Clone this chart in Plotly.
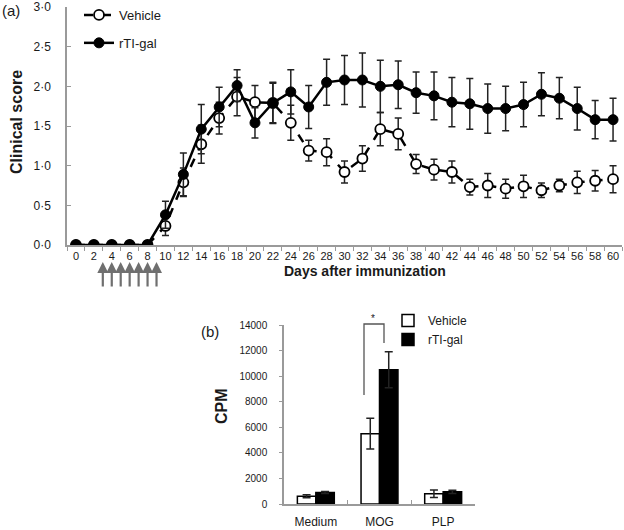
import plotly.graph_objects as go

# ---------------- Data ----------------
days = list(range(0, 61, 2))
day_labels = ["0", "2", "4", "6", "8", "10", "12", "14", "16", "18", "20", "22", "24", "26", "28",
              "30", "32", "34", "36", "38", "40", "42", "44", "46", "48", "50", "52", "54", "56", "58", "60"]

vehicle = [0, 0, 0, 0, 0, 0.24, 0.79, 1.27, 1.60, 1.87, 1.80, 1.79, 1.54, 1.19, 1.17,
           0.92, 1.09, 1.46, 1.40, 1.02, 0.95, 0.92, 0.73, 0.75, 0.71, 0.74, 0.69, 0.75, 0.79, 0.81, 0.83]
vehicle_err = [0, 0, 0, 0, 0, 0.12, 0.18, 0.24, 0.20, 0.24, 0.21, 0.25, 0.22, 0.13, 0.17,
               0.14, 0.16, 0.21, 0.20, 0.12, 0.13, 0.14, 0.10, 0.15, 0.12, 0.14, 0.09, 0.08, 0.14, 0.13, 0.17]

rtigal = [0, 0, 0, 0, 0, 0.38, 0.89, 1.46, 1.74, 2.01, 1.54, 1.79, 1.93, 1.74, 2.05,
          2.08, 2.08, 2.00, 2.02, 1.92, 1.88, 1.80, 1.78, 1.72, 1.72, 1.77, 1.90, 1.85, 1.72, 1.58, 1.58]
rtigal_err = [0, 0, 0, 0, 0, 0.17, 0.27, 0.31, 0.25, 0.20, 0.19, 0.26, 0.28, 0.27, 0.29,
              0.31, 0.34, 0.33, 0.30, 0.26, 0.30, 0.31, 0.32, 0.31, 0.28, 0.28, 0.27, 0.26, 0.27, 0.24, 0.27]

y_ticks = [0, 0.5, 1.0, 1.5, 2.0, 2.5, 3.0]
y_tick_labels = ["0·0", "0·5", "1·0", "1·5", "2·0", "2·5", "3·0"]

injection_days = [3, 4, 5, 6, 7, 8, 9]

categories = ["Medium", "MOG", "PLP"]
cpm_vehicle = [600, 5500, 800]
cpm_vehicle_err = [120, 1200, 300]
cpm_rtigal = [900, 10500, 950]
cpm_rtigal_err = [80, 1400, 130]
cpm_ticks = [0, 2000, 4000, 6000, 8000, 10000, 12000, 14000]
cpm_tick_labels = ["0", "2000", "4000", "6000", "8000", "10000", "12000", "14000"]

# ---------------- Helpers (pixel -> paper) ----------------
W, H = 624, 530
def px(x):
    return x / W
def py(y):
    return 1 - y / H

FONT = "Liberation Sans, Arial, sans-serif"
TXT = "#1a1a1a"
AX = "#9a9a9a"

fig = go.Figure()

# ---------------- Panel (a) ----------------
fig.add_trace(go.Scatter(
    x=days, y=vehicle, name="Vehicle", mode="lines+markers", legendgroup="veh",
    line=dict(color="black", width=2.5, dash="dash"),
    marker=dict(symbol="circle", size=10, color="white", line=dict(color="black", width=1.8)),
    error_y=dict(type="data", array=vehicle_err, color="#222", thickness=1.5, width=3.5),
    xaxis="x", yaxis="y", legend="legend",
))
fig.add_trace(go.Scatter(
    x=days, y=rtigal, name="rTI-gal", mode="lines+markers", legendgroup="rti",
    line=dict(color="black", width=2.5),
    marker=dict(symbol="circle", size=10, color="black", line=dict(color="black", width=1)),
    error_y=dict(type="data", array=rtigal_err, color="#222", thickness=1.5, width=3.5),
    xaxis="x", yaxis="y", legend="legend",
))

# ---------------- Panel (b) ----------------
fig.add_trace(go.Bar(
    x=categories, y=cpm_vehicle, name="Vehicle",
    marker=dict(color="white", line=dict(color="black", width=1.5)),
    error_y=dict(type="data", array=cpm_vehicle_err, color="#222", thickness=1.5, width=4),
    xaxis="x2", yaxis="y2", legend="legend2",
))
fig.add_trace(go.Bar(
    x=categories, y=cpm_rtigal, name="rTI-gal",
    marker=dict(color="black", line=dict(color="black", width=1.5)),
    error_y=dict(type="data", array=cpm_rtigal_err, color="#222", thickness=1.5, width=4),
    xaxis="x2", yaxis="y2", legend="legend2",
))

# ---------------- Annotations ----------------
ann = []
ann.append(dict(text="(a)", x=px(0), y=py(11), xref="paper", yref="paper", xanchor="left", yanchor="middle",
                showarrow=False, font=dict(size=15, color=TXT, family=FONT)))
ann.append(dict(text="(b)", x=px(210), y=py(331), xref="paper", yref="paper", xanchor="center", yanchor="middle",
                showarrow=False, font=dict(size=15, color=TXT, family=FONT)))
ann.append(dict(text="<b>Clinical score</b>", x=px(17), y=py(122), xref="paper", yref="paper",
                xanchor="center", yanchor="middle", textangle=-90, showarrow=False,
                font=dict(size=16, color=TXT, family=FONT)))
ann.append(dict(text="<b>Days after immunization</b>", x=px(365), y=py(271), xref="paper", yref="paper",
                xanchor="center", yanchor="middle", showarrow=False,
                font=dict(size=14, color=TXT, family=FONT)))
ann.append(dict(text="<b>CPM</b>", x=px(221), y=py(406), xref="paper", yref="paper",
                xanchor="center", yanchor="middle", textangle=-90, showarrow=False,
                font=dict(size=16, color=TXT, family=FONT)))
ann.append(dict(text="*", x=px(373), y=py(318), xref="paper", yref="paper",
                xanchor="center", yanchor="middle", showarrow=False,
                font=dict(size=10, color=TXT, family=FONT)))
for d in injection_days:
    ann.append(dict(text="", x=d, xref="x", y=py(262), yref="paper",
                    showarrow=True, ax=0, ay=26, arrowhead=2, arrowsize=1.0, arrowwidth=2.2,
                    arrowcolor="#6f6f6f"))

# significance bracket
shapes = [dict(type="path", xref="paper", yref="paper",
               path=f"M {px(364)} {py(395)} L {px(364)} {py(324)} L {px(384)} {py(324)} L {px(384)} {py(343)}",
               line=dict(color="#555", width=1.3))]

fig.update_layout(
    width=W, height=H,
    margin=dict(l=0, r=0, t=0, b=0, autoexpand=False),
    paper_bgcolor="white", plot_bgcolor="white",
    font=dict(family=FONT, color=TXT),
    barmode="group", bargap=0.42, bargroupgap=0,
    annotations=ann, shapes=shapes,
    xaxis=dict(domain=[px(67), px(622)], range=[-1, 61], anchor="y", automargin=False,
               tickmode="array", tickvals=days, ticktext=day_labels,
               ticks="", showline=True, linecolor=AX, linewidth=1.5,
               showgrid=False, zeroline=False,
               tickfont=dict(size=11, color=TXT, family=FONT),
               minor=dict(tickmode="linear", tick0=-1, dtick=2, ticks="outside", ticklen=4,
                          tickcolor=AX, tickwidth=1, showgrid=False)),
    yaxis=dict(domain=[py(245), py(7)], range=[0, 3], anchor="x", automargin=False,
               tickmode="array", tickvals=y_ticks, ticktext=y_tick_labels,
               ticks="inside", ticklen=4, tickcolor=AX, ticklabelstandoff=12,
               showline=True, linecolor=AX, linewidth=1.5,
               showgrid=False, zeroline=False,
               tickfont=dict(size=12, color=TXT, family=FONT)),
    xaxis2=dict(domain=[px(284), px(475)], anchor="y2", automargin=False,
                ticks="", showline=True, linecolor=AX, linewidth=1.5,
                showgrid=False, zeroline=False, ticklabelstandoff=6,
                tickfont=dict(size=12, color=TXT, family=FONT),
                minor=dict(tickmode="array", tickvals=[0.5, 1.5], ticks="inside", ticklen=4,
                           tickcolor=AX, showgrid=False)),
    yaxis2=dict(domain=[py(504), py(325)], range=[0, 14000], anchor="x2", automargin=False,
                tickmode="array", tickvals=cpm_ticks, ticktext=cpm_tick_labels,
                ticks="outside", ticklen=3, tickcolor=AX, ticklabelstandoff=10,
                showline=True, linecolor=AX, linewidth=1.5,
                showgrid=False, zeroline=False,
                tickfont=dict(size=10, color=TXT, family=FONT)),
    legend=dict(x=px(79), y=py(0), xanchor="left", yanchor="top", bgcolor="rgba(0,0,0,0)",
                font=dict(size=13, color=TXT, family=FONT), tracegroupgap=8, itemwidth=30),
    legend2=dict(x=px(388), y=py(306), xanchor="left", yanchor="top", bgcolor="rgba(0,0,0,0)",
                 font=dict(size=12, color=TXT, family=FONT), itemwidth=30),
    showlegend=True,
)

fig.write_html("out.html", config={"displayModeBar": False},
               post_script="document.body.style.margin='0';document.body.style.padding='0';")
